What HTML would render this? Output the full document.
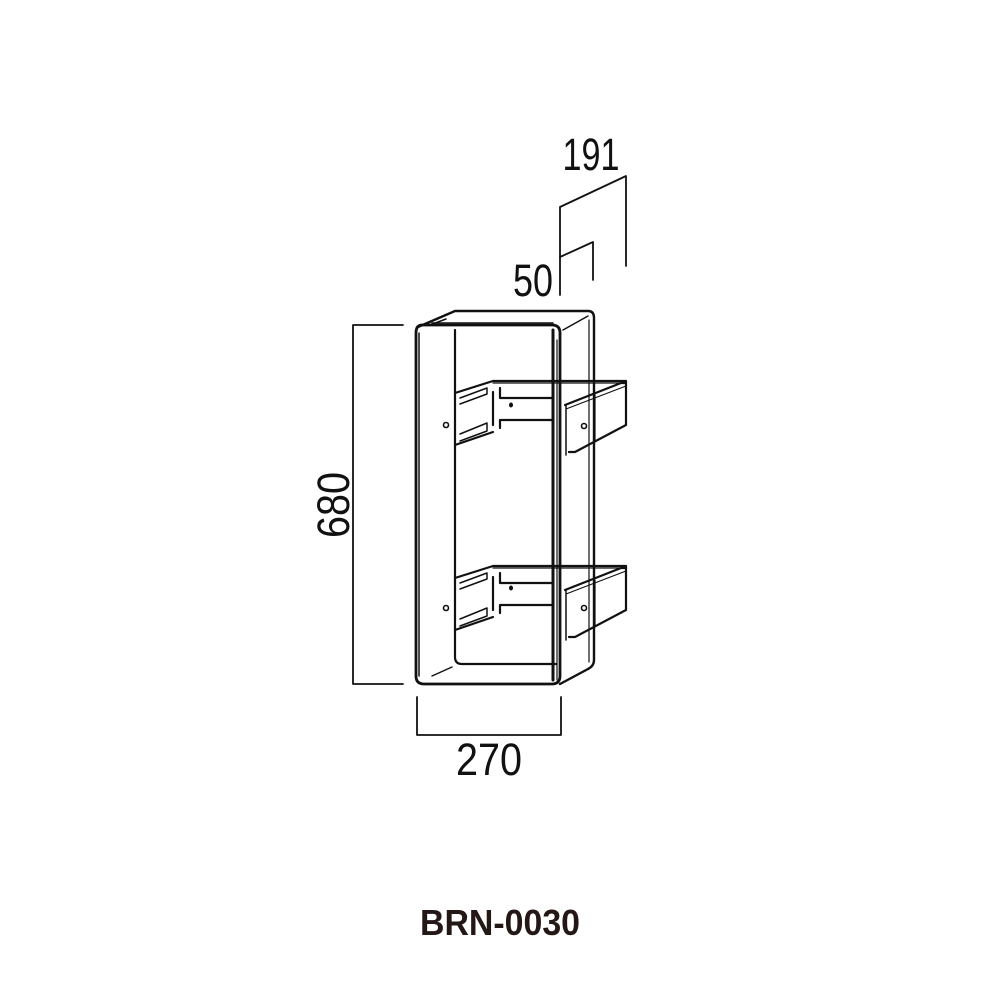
<!DOCTYPE html>
<html><head><style>
html,body{margin:0;padding:0;background:#fff;}
svg{display:block;}
text{font-family:"Liberation Sans",sans-serif;fill:#111;}
</style></head><body>
<svg width="1000" height="1000" viewBox="0 0 1000 1000" xmlns="http://www.w3.org/2000/svg">
<g fill="none" stroke="#111" stroke-width="2.2" stroke-linejoin="round" stroke-linecap="round">
<!-- dimension lines -->
<polyline points="403,325 353,325 353,684 403,684" stroke-width="1.8"/>
<polyline points="417,697 417,735 561,735 561,697" stroke-width="1.8"/>
<polyline points="560,295 560,207 626,176 626,266" stroke-width="1.8"/>
<polyline points="560,257 593,242 593,280" stroke-width="1.8"/>

<!-- box front frame -->
<path d="M422,325 L552,325 Q560,325 560,333 L560,676 Q560,684 552,684 L424,684 Q416,684 416,676 L416,333 Q416,325 422,325 Z" stroke-width="2.8"/>
<line x1="419" y1="333" x2="419" y2="676" stroke-width="1.5"/>
<!-- inner opening -->
<path d="M455,330 L455,657 Q455,664 462,664 L556,664" />
<line x1="553" y1="330" x2="553" y2="680" stroke-width="3"/>
<line x1="557" y1="340" x2="557" y2="680" stroke-width="1.2"/>
<!-- top -->
<path d="M418,327 L455,311 L588,311 Q594,311 594,318 L594,660 Q594,666 588,669 L560,684" stroke-width="2.4"/>
<line x1="430" y1="325" x2="446" y2="319" stroke-width="1.5"/>
<line x1="432" y1="323" x2="553" y2="323" stroke-width="1.5"/>
<line x1="563" y1="330" x2="588" y2="316" stroke-width="1.5"/>
<line x1="589" y1="320" x2="589" y2="662" stroke-width="1.2"/>
<!-- bottom inner diagonal -->
<line x1="432" y1="676" x2="452" y2="667" stroke-width="1.5"/>

<!-- upper bracket -->
<polyline points="455,393 493,381 626,381 626,425 575,452 569,452"/>
<line x1="493" y1="383" x2="626" y2="383" stroke-width="1.2"/>
<polyline points="460,398 487,388 487,394 460,404 Z" stroke-width="1.5"/>
<polyline points="460,434 487,423 487,431 460,441" stroke-width="1.5"/>
<line x1="455" y1="445" x2="493" y2="432"/>
<line x1="493" y1="392" x2="493" y2="425"/>
<polyline points="500,388 500,398 553,398"/>
<polyline points="500,428 500,420 553,420"/>
<polyline points="565,405 621,383 626,383"/>
<line x1="566" y1="409" x2="626" y2="386" stroke-width="1.2"/>
<line x1="566" y1="405" x2="566" y2="455" stroke-width="1.5"/>
<line x1="595" y1="395" x2="595" y2="440" stroke-width="1.2"/>
<!-- lower bracket -->
<polyline points="455,578 493,566 626,566 626,610 575,637 569,637"/>
<line x1="493" y1="568" x2="626" y2="568" stroke-width="1.2"/>
<polyline points="460,583 487,573 487,579 460,589 Z" stroke-width="1.5"/>
<polyline points="460,619 487,608 487,616 460,626" stroke-width="1.5"/>
<line x1="455" y1="630" x2="493" y2="617"/>
<line x1="493" y1="577" x2="493" y2="610"/>
<polyline points="500,573 500,583 553,583"/>
<polyline points="500,613 500,605 553,605"/>
<polyline points="565,590 621,568 626,568"/>
<line x1="566" y1="594" x2="626" y2="571" stroke-width="1.2"/>
<line x1="566" y1="590" x2="566" y2="640" stroke-width="1.5"/>
<line x1="595" y1="580" x2="595" y2="625" stroke-width="1.2"/>
</g>
<g fill="none" stroke="#111" stroke-width="1.6">
<circle cx="446" cy="425" r="2.5"/><circle cx="584" cy="426" r="2.5"/>
<circle cx="446" cy="608" r="2.5"/><circle cx="584" cy="608" r="2.5"/>
</g>
<ellipse cx="511" cy="405" rx="2" ry="2.5" fill="#111"/>
<ellipse cx="511" cy="588" rx="2" ry="2.5" fill="#111"/>

<text x="591" y="170" font-size="45" text-anchor="middle" textLength="57" lengthAdjust="spacingAndGlyphs">191</text>
<text x="533" y="296" font-size="45" text-anchor="middle" textLength="40" lengthAdjust="spacingAndGlyphs">50</text>
<text x="489" y="775" font-size="45" text-anchor="middle" textLength="66" lengthAdjust="spacingAndGlyphs">270</text>
<text transform="translate(349,505) rotate(-90)" font-size="45" text-anchor="middle" textLength="66" lengthAdjust="spacingAndGlyphs">680</text>
<text x="500" y="935" font-size="36" font-weight="bold" text-anchor="middle" style="fill:#231815" textLength="160" lengthAdjust="spacingAndGlyphs">BRN-0030</text>
</svg>
</body></html>
